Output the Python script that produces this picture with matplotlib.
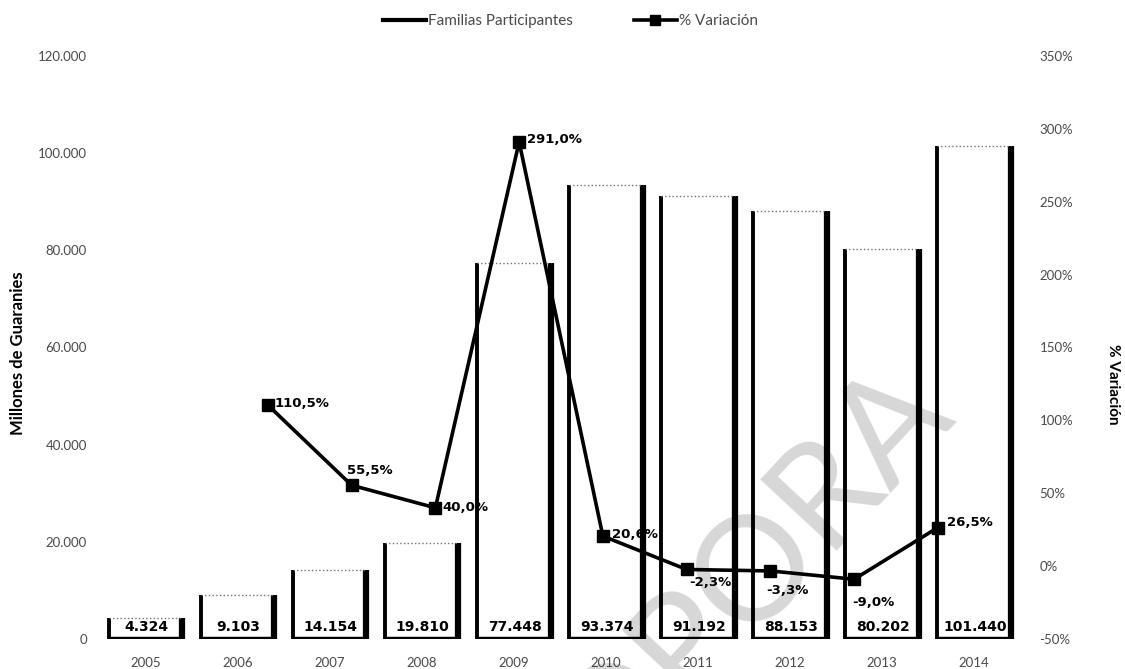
import matplotlib
matplotlib.use("Agg")
import matplotlib.pyplot as plt
from matplotlib.lines import Line2D
import numpy as np

# Data
years = ["2005", "2006", "2007", "2008", "2009", "2010", "2011", "2012", "2013", "2014"]
familias = [4324, 9103, 14154, 19810, 77448, 93374, 91192, 88153, 80202, 101440]
variacion = [None, 110.5, 55.5, 40.0, 291.0, 20.6, -2.3, -3.3, -9.0, 26.5]
left_ticks = [0, 20000, 40000, 60000, 80000, 100000, 120000]
right_ticks = [-50, 0, 50, 100, 150, 200, 250, 300, 350]

plt.rcParams['font.family'] = ['Lato', 'DejaVu Sans']
TICK_COLOR = '#4a4a4a'
VALUE_FONT = ['DejaVu Sans']

fig = plt.figure(figsize=(11.25, 6.69), dpi=100)
rect = [99.5 / 1125, (669 - 639) / 669, 920.5 / 1125, 583 / 669]

# Bars (primary axis)
ax = fig.add_axes(rect)
x = np.arange(len(years))
w = 0.8
ax.bar(x, familias, width=w, color='white', edgecolor='none', zorder=1)
ax.vlines(x - w / 2, 0, familias, color='black', lw=2.8, zorder=2)
ax.vlines(x + w / 2, 0, familias, color='black', lw=4.5, zorder=2)
ax.hlines(familias, x - w / 2, x + w / 2, color='0.45', lw=1, linestyles=':', zorder=2)
ax.hlines(np.zeros(len(x)), x - w / 2 - 0.01, x + w / 2 + 0.02, color='black', lw=3.2, zorder=2)

for xi, v in zip(x, familias):
    ax.annotate(f"{v:,}".replace(",", "."), (xi, 0), xytext=(1, 5), textcoords='offset pixels',
                ha='center', va='bottom', fontsize=10, fontweight='bold', family=VALUE_FONT,
                color='black', zorder=3)

ax.set_xlim(-0.5, len(years) - 0.5)
ax.set_ylim(0, 120000)
ax.set_xticks(x)
ax.set_xticklabels(years, fontsize=9.5, color=TICK_COLOR)
ax.set_yticks(left_ticks)
ax.set_yticklabels([f"{t:,}".replace(",", ".") for t in left_ticks], fontsize=9.5, color=TICK_COLOR)
ax.tick_params(axis='both', length=0)
ax.tick_params(axis='x', pad=13)
ax.tick_params(axis='y', pad=9)
for s in ax.spines.values():
    s.set_visible(False)
ax.set_ylabel("Millones de Guaranies", fontsize=12, fontweight='bold', va='center')
ax.yaxis.set_label_coords(-0.0885, 0.49)

# Variation line (secondary axis)
axl = fig.add_axes(rect, frameon=False)
axl.patch.set_alpha(0)
xv = [xi for xi, v in zip(x, variacion) if v is not None]
yv = [v for v in variacion if v is not None]
axl.plot(xv, yv, color='black', lw=2.6, marker='s', markersize=8.5, zorder=4)
axl.set_xlim(-1.01, 9.98)
axl.set_ylim(-50, 350)
axl.xaxis.set_visible(False)
axl.yaxis.tick_right()
axl.yaxis.set_label_position('right')
axl.set_yticks(right_ticks)
axl.set_yticklabels([f"{t}%" for t in right_ticks], fontsize=9.5, color=TICK_COLOR)
axl.tick_params(axis='y', length=0, pad=14)
axl.set_ylabel("% Variación", fontsize=11, fontweight='bold', rotation=-90, va='center')
axl.yaxis.set_label_coords(1.101, 0.437)

offsets = {1: (7, 2), 2: (-5, 15), 3: (7, 0), 4: (8, 2), 5: (9, 2),
           6: (3, -13), 7: (-4, -20), 8: (-2, -23), 9: (9, 5)}
for xi, v in zip(xv, yv):
    dx, dy = offsets[xi]
    axl.annotate(f"{v:.1f}%".replace(".", ","), (xi, v), xytext=(dx, dy), textcoords='offset pixels',
                 ha='left', va='center', fontsize=9.5, fontweight='bold', family=VALUE_FONT,
                 color='black', zorder=5)

# Legend
handles = [Line2D([], [], color='black', lw=3),
           Line2D([], [], color='black', lw=2.6, marker='s', markersize=7)]
fig.legend(handles, ["Familias Participantes", "% Variación"], loc='center',
           bbox_to_anchor=(0.507, 0.968), ncol=2, frameon=False, fontsize=11,
           labelcolor=TICK_COLOR, handlelength=2.8, handletextpad=0.15, columnspacing=4)

# Watermark
fig.text(0.668, 0.14, "OPORA", rotation=47, fontsize=105, fontweight='normal',
         color=(0, 0, 0, 0.16), ha='center', va='center', zorder=10)

fig.savefig("out.png", dpi=100)
